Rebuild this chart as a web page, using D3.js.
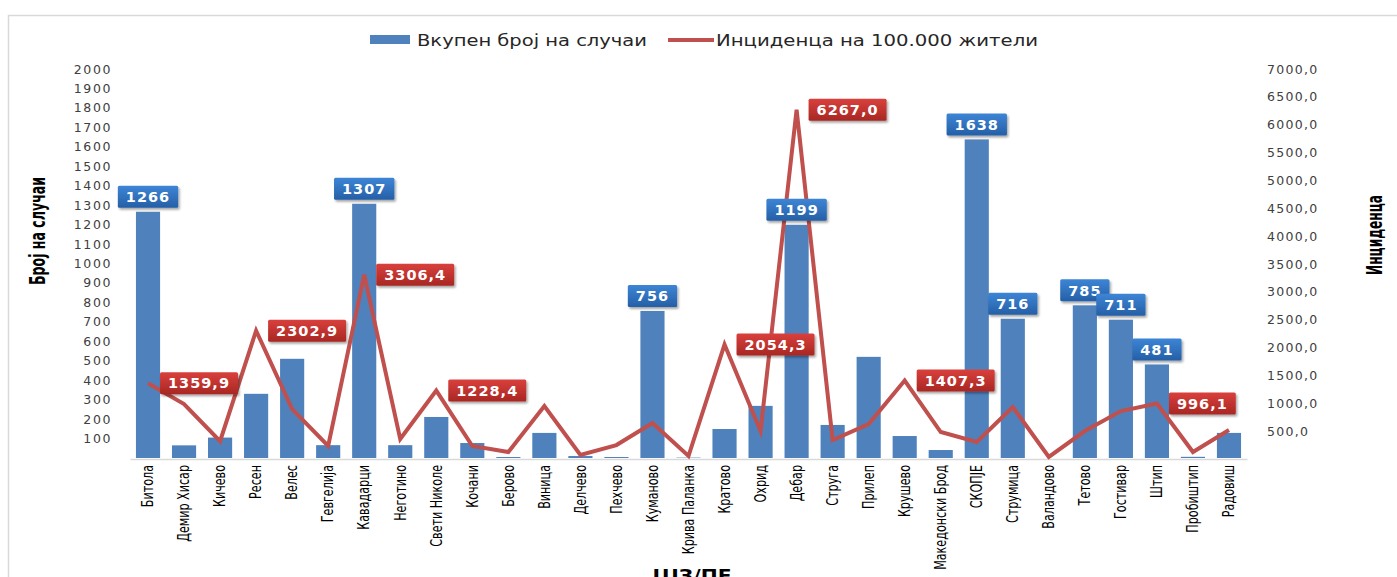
<!DOCTYPE html>
<html>
<head>
<meta charset="utf-8">
<script src="https://cdn.jsdelivr.net/npm/d3@7.9.0/dist/d3.min.js"></script>
<style>
  body { margin: 0; background: #fff; }
  svg { display: block; }
</style>
</head>
<body>
<script>
// categories (ЦЈЗ/ПЕ)
const regions = ["Битола", "Демир Хисар", "Кичево", "Ресен", "Велес", "Гевгелија", "Кавадарци", "Неготино",
  "Свети Николе", "Кочани", "Берово", "Виница", "Делчево", "Пехчево", "Куманово", "Крива Паланка", "Кратово",
  "Охрид", "Дебар", "Струга", "Прилеп", "Крушево", "Македонски Брод", "СКОПЈЕ", "Струмица", "Валандово",
  "Тетово", "Гостивар", "Штип", "Пробиштип", "Радовиш"];

// total cases (left axis)
const cases = [1266, 65, 105, 330, 510, 66, 1307, 66, 211, 77, 5, 129, 10, 5, 756, 2, 149,
  268, 1199, 170, 520, 113, 41, 1638, 716, 0, 785, 711, 481, 6, 129];

// incidence per 100.000 (right axis)
const incidence = [1359.9, 985, 320, 2302.9, 896, 233, 3306.4, 358, 1228.4, 233, 125, 950, 72, 250, 645, 54, 2054.3,
  502, 6267.0, 340, 627, 1407.3, 484, 305, 932, 36, 502, 860, 996.1, 125, 520];

// which points get a data label
const casesLabeled = ["Битола", "Кавадарци", "Куманово", "Дебар", "СКОПЈЕ", "Струмица", "Тетово", "Гостивар", "Штип"];
const incLabeled = ["Битола", "Ресен", "Кавадарци", "Свети Николе", "Кратово", "Дебар", "Крушево", "Штип"];

const leftTicks = d3.range(100, 2001, 100);
const rightTicks = d3.range(500, 7001, 500);

const W = 1397, H = 577;
const svg = d3.select("body").append("svg").attr("width", W).attr("height", H);

const defs = svg.append("defs");
function grad(id, c1, c2) {
  const g = defs.append("linearGradient").attr("id", id).attr("x1", 0).attr("y1", 0).attr("x2", 0).attr("y2", 1);
  g.append("stop").attr("offset", "0%").attr("stop-color", c1);
  g.append("stop").attr("offset", "100%").attr("stop-color", c2);
}
grad("gBlue", "#3d85d6", "#255fa6");
grad("gRed", "#d9403c", "#a82723");
const sh = defs.append("filter").attr("id", "shadow").attr("x", "-20%").attr("y", "-30%").attr("width", "150%").attr("height", "170%");
sh.append("feDropShadow").attr("dx", 1.5).attr("dy", 2).attr("stdDeviation", 1.2).attr("flood-color", "#000").attr("flood-opacity", 0.35);

// outer frame
svg.append("path").attr("d", `M8.5,${H} V15.5 H${W}`).attr("fill", "none").attr("stroke", "#d9d9d9").attr("stroke-width", 1.5);

const x = d3.scaleBand().domain(regions).range([130, 1247]).paddingInner(0.33).paddingOuter(0.165);
const yL = d3.scaleLinear().domain([0, 2000]).range([458, 69]);
const yR = d3.scaleLinear().domain([0, 7000]).range([459, 69]);

const tickFont = "'DejaVu Sans', Verdana, sans-serif";
const narrow = "'DejaVu Sans Condensed', 'DejaVu Sans', sans-serif";

// left axis
const axL = svg.append("g").attr("transform", "translate(116,0)")
  .call(d3.axisLeft(yL).tickValues(leftTicks).tickSize(0).tickPadding(4).tickFormat(d3.format("d")));
axL.select(".domain").remove();
axL.selectAll("text").attr("font-family", tickFont).attr("font-size", 12.5).attr("letter-spacing", 1.6).attr("fill", "#404040");

// right axis
const axR = svg.append("g").attr("transform", "translate(1263,0)")
  .call(d3.axisRight(yR).tickValues(rightTicks).tickSize(0).tickPadding(4).tickFormat(d => d3.format(".1f")(d).replace(".", ",")));
axR.select(".domain").remove();
axR.selectAll("text").attr("font-family", tickFont).attr("font-size", 12.5).attr("letter-spacing", 1.3).attr("fill", "#404040");

// bars
svg.append("g").selectAll("rect").data(regions).join("rect")
  .attr("x", d => x(d)).attr("width", x.bandwidth())
  .attr("y", (d, i) => yL(cases[i])).attr("height", (d, i) => yL(0) - yL(cases[i]))
  .attr("fill", "#4f81bd");

// x axis
const axX = svg.append("g").attr("transform", `translate(0,${yL(0) + 1})`)
  .call(d3.axisBottom(x).tickSize(0).tickPadding(0));
axX.select(".domain").attr("stroke", "#d9d9d9").attr("stroke-width", 1.5);
const xt = axX.selectAll("text")
  .attr("font-family", narrow).attr("font-size", 15).attr("fill", "#000")
  .attr("text-anchor", "end").attr("x", -6).attr("y", 0).attr("dy", "0.35em");
// squeeze glyphs along the text so "Македонски Брод" spans ~105px, like the narrow font in the original
let longest = 0;
xt.each(function (d) { if (d === "Македонски Брод") longest = this.getComputedTextLength(); });
const sq = longest ? 105 / longest : 0.85;
xt.attr("transform", `rotate(-90) scale(${sq},1)`).attr("x", -6 / sq);

// line
const line = d3.line().x((d, i) => x(regions[i]) + x.bandwidth() / 2).y(d => yR(d));
svg.append("path").datum(incidence).attr("d", line)
  .attr("fill", "none").attr("stroke", "#c0504d").attr("stroke-width", 4).attr("stroke-linejoin", "miter");

// data labels
const labelFont = "'DejaVu Sans', Verdana, sans-serif";
function addLabel(txt, cx, cy, anchorLeft, fillId) {
  const g = svg.append("g");
  const t = g.append("text").text(txt)
    .attr("font-family", labelFont).attr("font-weight", "bold").attr("font-size", 14.5)
    .attr("letter-spacing", 1).attr("fill", "#fff").attr("dy", "0.36em");
  const w = t.node().getComputedTextLength() + 16;
  const h = 22;
  const x0 = anchorLeft ? cx : cx - w / 2;
  g.insert("rect", "text").attr("x", x0).attr("y", cy - h / 2).attr("width", w).attr("height", h)
    .attr("rx", 1.5).attr("fill", `url(#${fillId})`).attr("filter", "url(#shadow)");
  t.attr("x", x0 + w / 2).attr("y", cy).attr("text-anchor", "middle");
}
regions.forEach((r, i) => {
  if (casesLabeled.includes(r)) {
    addLabel(String(cases[i]), x(r) + x.bandwidth() / 2, yL(cases[i]) - 15, false, "gBlue");
  }
});
regions.forEach((r, i) => {
  if (incLabeled.includes(r)) {
    addLabel(d3.format(".1f")(incidence[i]).replace(".", ","), x(r) + x.bandwidth() / 2 + 12, yR(incidence[i]), true, "gRed");
  }
});

// axis titles
svg.append("text").attr("transform", "translate(45,231) rotate(-90)").attr("text-anchor", "middle")
  .attr("font-family", narrow).attr("font-weight", "bold").attr("font-size", 22)
  .attr("textLength", 108).attr("lengthAdjust", "spacingAndGlyphs").text("Број на случаи");
svg.append("text").attr("transform", "translate(1382,235) rotate(-90)").attr("text-anchor", "middle")
  .attr("font-family", narrow).attr("font-weight", "bold").attr("font-size", 21)
  .attr("textLength", 80).attr("lengthAdjust", "spacingAndGlyphs").text("Инциденца");
svg.append("text").attr("x", 692).attr("y", 582).attr("text-anchor", "middle")
  .attr("font-family", "'DejaVu Sans', sans-serif").attr("font-weight", "bold").attr("font-size", 17)
  .attr("textLength", 79).attr("lengthAdjust", "spacingAndGlyphs").text("ЦЈЗ/ПЕ");

// legend
const lg = svg.append("g").attr("font-family", "'DejaVu Sans', Verdana, sans-serif").attr("font-size", 16.5).attr("fill", "#262626");
lg.append("rect").attr("x", 370).attr("y", 35).attr("width", 40).attr("height", 9).attr("fill", "#4f81bd");
lg.append("text").attr("x", 417).attr("y", 40).attr("dy", "0.35em")
  .attr("textLength", 230).attr("lengthAdjust", "spacingAndGlyphs").text("Вкупен број на случаи");
lg.append("line").attr("x1", 668).attr("x2", 714).attr("y1", 40).attr("y2", 40).attr("stroke", "#c0504d").attr("stroke-width", 4);
lg.append("text").attr("x", 716).attr("y", 40).attr("dy", "0.35em")
  .attr("textLength", 322).attr("lengthAdjust", "spacingAndGlyphs").text("Инциденца на 100.000 жители");
</script>
</body>
</html>
